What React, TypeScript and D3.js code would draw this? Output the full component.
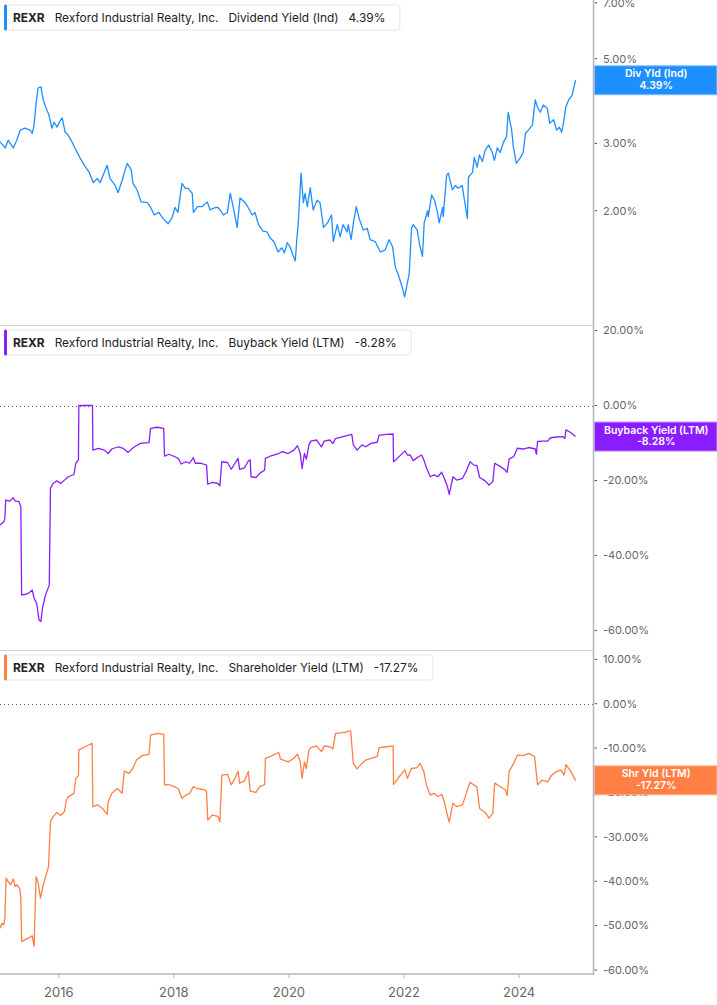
import { useLayoutEffect, useRef, useState } from "react";
import * as d3 from "d3";

// ── Layout ────────────────────────────────────────────────
const W = 717;
const H = 1005;
const PLOT_R = 593.5;           // right edge of plot / axis line
const AXIS_B = 974;             // bottom x-axis line
const FONT = "Inter, 'Noto Sans', sans-serif";

// ── Data (decimal year, value in %) ───────────────────────
const TICKER = "REXR";
const COMPANY = "Rexford Industrial Realty, Inc.";
const YEAR_TICKS = [2016, 2018, 2020, 2022, 2024];
const DIV_TICKS = [2, 3, 5, 7];
const BUY_TICKS = [20, 0, -20, -40, -60];
const SHR_TICKS = [10, 0, -10, -20, -30, -40, -50, -60];
const LAST_VALUES = [4.39, -8.28, -17.27];

const DIV_YIELD: [number, number][] = [
  [2014.98, 3.03], [2015.07, 2.92], [2015.12, 3.06], [2015.21, 2.92], [2015.27, 3.06],
  [2015.33, 3.25], [2015.41, 3.29], [2015.50, 3.25], [2015.54, 3.19], [2015.57, 3.35],
  [2015.61, 3.86], [2015.64, 4.19], [2015.69, 4.22], [2015.73, 3.90], [2015.80, 3.65],
  [2015.83, 3.56], [2015.88, 3.29], [2015.92, 3.41], [2015.97, 3.31], [2016.01, 3.41],
  [2016.06, 3.50], [2016.11, 3.21], [2016.16, 3.16], [2016.23, 3.03], [2016.28, 2.92],
  [2016.37, 2.75], [2016.46, 2.61], [2016.53, 2.52], [2016.60, 2.37], [2016.67, 2.43],
  [2016.72, 2.37], [2016.79, 2.52], [2016.84, 2.63], [2016.89, 2.43], [2016.98, 2.33],
  [2017.03, 2.23], [2017.10, 2.40], [2017.14, 2.52], [2017.19, 2.66], [2017.26, 2.56],
  [2017.29, 2.36], [2017.36, 2.27], [2017.43, 2.11], [2017.54, 2.10], [2017.59, 2.05],
  [2017.66, 1.95], [2017.74, 1.98], [2017.81, 1.91], [2017.90, 1.85], [2017.97, 1.92],
  [2018.02, 2.04], [2018.07, 1.98], [2018.14, 2.36], [2018.20, 2.29], [2018.25, 2.29],
  [2018.32, 2.22], [2018.34, 1.98], [2018.41, 2.05], [2018.49, 2.05], [2018.58, 2.11],
  [2018.63, 2.01], [2018.72, 2.04], [2018.77, 2.04], [2018.86, 1.95], [2018.93, 1.98],
  [2018.98, 2.22], [2019.03, 2.05], [2019.10, 1.81], [2019.15, 2.16], [2019.24, 2.10],
  [2019.29, 2.04], [2019.36, 1.95], [2019.41, 1.98], [2019.47, 1.84], [2019.55, 1.77],
  [2019.62, 1.76], [2019.67, 1.70], [2019.74, 1.66], [2019.81, 1.56], [2019.88, 1.60],
  [2019.92, 1.55], [2019.97, 1.65], [2020.02, 1.61], [2020.07, 1.53], [2020.11, 1.48],
  [2020.14, 1.71], [2020.16, 1.84], [2020.21, 2.51], [2020.25, 2.10], [2020.28, 2.22],
  [2020.32, 2.05], [2020.37, 2.30], [2020.42, 2.01], [2020.49, 2.13], [2020.54, 2.10],
  [2020.60, 1.81], [2020.67, 1.86], [2020.74, 1.95], [2020.77, 1.66], [2020.84, 1.84],
  [2020.89, 1.71], [2020.94, 1.84], [2021.01, 1.76], [2021.03, 1.84], [2021.08, 1.68],
  [2021.12, 1.86], [2021.17, 2.05], [2021.22, 1.91], [2021.29, 1.78], [2021.36, 1.80],
  [2021.41, 1.68], [2021.50, 1.66], [2021.59, 1.56], [2021.67, 1.58], [2021.74, 1.68],
  [2021.80, 1.61], [2021.85, 1.42], [2021.90, 1.36], [2021.97, 1.26], [2022.01, 1.19],
  [2022.06, 1.30], [2022.09, 1.37], [2022.13, 1.80], [2022.16, 1.84], [2022.23, 1.78],
  [2022.27, 1.63], [2022.32, 1.52], [2022.35, 1.86], [2022.41, 2.00], [2022.42, 1.93],
  [2022.48, 2.20], [2022.53, 2.13], [2022.58, 1.98], [2022.61, 1.86], [2022.67, 2.04],
  [2022.68, 1.93], [2022.74, 2.48], [2022.77, 2.51], [2022.84, 2.27], [2022.89, 2.33],
  [2022.94, 2.29], [2023.01, 2.33], [2023.05, 2.13], [2023.10, 1.91], [2023.12, 2.45],
  [2023.19, 2.52], [2023.22, 2.76], [2023.27, 2.60], [2023.31, 2.80], [2023.36, 2.69],
  [2023.41, 2.88], [2023.47, 2.97], [2023.53, 2.85], [2023.57, 2.71], [2023.62, 2.92],
  [2023.67, 2.84], [2023.73, 3.03], [2023.78, 3.12], [2023.81, 3.62], [2023.87, 3.25],
  [2023.90, 2.94], [2023.95, 2.66], [2024.02, 2.75], [2024.07, 2.84], [2024.11, 3.19],
  [2024.16, 3.25], [2024.23, 3.35], [2024.28, 3.90], [2024.32, 3.73], [2024.37, 3.62],
  [2024.42, 3.78], [2024.49, 3.71], [2024.53, 3.39], [2024.60, 3.46], [2024.65, 3.25],
  [2024.70, 3.31], [2024.74, 3.21], [2024.77, 3.39], [2024.81, 3.73], [2024.86, 3.90],
  [2024.92, 4.01], [2024.94, 4.14], [2024.98, 4.39],
];

const BUYBACK: [number, number][] = [
  [2014.98, -31.9], [2015.045, -31.0], [2015.064, -30.1], [2015.078, -25.2], [2015.144, -25.5],
  [2015.21, -24.6], [2015.243, -25.5], [2015.308, -25.6], [2015.341, -27.0], [2015.355, -50.5],
  [2015.407, -50.4], [2015.473, -50.1], [2015.539, -49.2], [2015.572, -51.4], [2015.617, -52.8],
  [2015.657, -57.2], [2015.69, -57.6], [2015.716, -54.1], [2015.77, -50.5], [2015.835, -47.9],
  [2015.856, -22.1], [2015.901, -20.8], [2015.967, -20.1], [2016.033, -20.8], [2016.099, -19.9],
  [2016.165, -19.0], [2016.264, -18.4], [2016.297, -15.4], [2016.342, -14.5], [2016.349, 0.0],
  [2016.586, 0.0], [2016.593, -11.9], [2016.692, -11.4], [2016.791, -11.9], [2016.857, -12.8],
  [2016.922, -11.6], [2017.035, -11.0], [2017.12, -11.4], [2017.205, -12.5], [2017.297, -11.2],
  [2017.417, -10.1], [2017.569, -9.9], [2017.595, -6.1], [2017.713, -5.8], [2017.824, -6.1],
  [2017.838, -13.5], [2017.911, -13.0], [2018.009, -13.6], [2018.075, -14.1], [2018.128, -15.6],
  [2018.207, -15.0], [2018.273, -15.4], [2018.339, -13.9], [2018.372, -15.4], [2018.471, -15.4],
  [2018.568, -15.9], [2018.589, -21.0], [2018.668, -20.5], [2018.767, -20.8], [2018.8, -21.4],
  [2018.833, -15.0], [2018.932, -15.2], [2018.998, -17.0], [2019.062, -15.4], [2019.116, -14.1],
  [2019.142, -17.0], [2019.228, -16.6], [2019.294, -14.8], [2019.327, -14.5], [2019.341, -19.0],
  [2019.426, -19.2], [2019.492, -18.1], [2019.577, -17.2], [2019.591, -14.1], [2019.689, -13.4],
  [2019.821, -12.8], [2019.887, -12.3], [2019.986, -12.8], [2020.085, -11.9], [2020.149, -10.7],
  [2020.196, -12.8], [2020.229, -16.8], [2020.269, -12.8], [2020.302, -14.3], [2020.348, -10.5],
  [2020.381, -9.5], [2020.48, -9.2], [2020.565, -11.0], [2020.612, -9.5], [2020.709, -9.2],
  [2020.763, -10.1], [2020.809, -8.8], [2020.941, -8.3], [2021.092, -7.7], [2021.118, -10.5],
  [2021.184, -11.9], [2021.269, -10.5], [2021.335, -11.0], [2021.422, -10.1], [2021.534, -9.8],
  [2021.567, -7.9], [2021.699, -7.7], [2021.81, -7.6], [2021.817, -15.0], [2021.895, -13.9],
  [2022.014, -12.1], [2022.06, -13.2], [2022.106, -13.2], [2022.16, -14.7], [2022.259, -13.6],
  [2022.304, -13.2], [2022.344, -14.5], [2022.389, -16.6], [2022.455, -19.0], [2022.521, -18.5],
  [2022.587, -19.0], [2022.654, -17.8], [2022.699, -19.4], [2022.753, -21.6], [2022.786, -23.7],
  [2022.819, -21.2], [2022.852, -19.0], [2022.916, -19.9], [2023.016, -19.4], [2023.081, -17.5],
  [2023.147, -15.0], [2023.214, -15.9], [2023.266, -16.0], [2023.313, -19.2], [2023.41, -20.1],
  [2023.476, -21.2], [2023.542, -20.3], [2023.575, -15.4], [2023.675, -16.3], [2023.76, -17.2],
  [2023.793, -17.8], [2023.826, -14.3], [2023.906, -13.6], [2023.97, -11.4], [2024.069, -11.6],
  [2024.168, -11.2], [2024.28, -11.6], [2024.3, -13.0], [2024.32, -9.6], [2024.4, -9.5],
  [2024.497, -9.5], [2024.544, -8.6], [2024.65, -8.4], [2024.761, -8.3], [2024.794, -8.8],
  [2024.813, -6.5], [2024.894, -7.2], [2024.979, -8.28],
];

const SHR_YIELD: [number, number][] = [
  [2014.98, -50.6], [2015.012, -49.5], [2015.045, -49.8], [2015.064, -48.3], [2015.085, -39.3],
  [2015.123, -40.1], [2015.163, -40.8], [2015.21, -39.5], [2015.243, -41.2], [2015.275, -40.8],
  [2015.322, -41.6], [2015.341, -43.8], [2015.355, -53.6], [2015.407, -53.2], [2015.473, -52.8],
  [2015.539, -52.3], [2015.572, -54.7], [2015.605, -39.0], [2015.638, -40.1], [2015.683, -43.8],
  [2015.716, -41.6], [2015.77, -39.0], [2015.822, -36.7], [2015.856, -26.6], [2015.901, -25.5],
  [2015.967, -24.5], [2016.033, -25.2], [2016.099, -24.3], [2016.132, -21.7], [2016.165, -21.0],
  [2016.264, -20.2], [2016.297, -16.8], [2016.342, -16.2], [2016.349, -10.4], [2016.461, -9.7],
  [2016.579, -8.9], [2016.593, -23.2], [2016.678, -22.8], [2016.758, -23.6], [2016.843, -24.9],
  [2016.857, -22.2], [2016.922, -20.2], [2017.021, -19.1], [2017.101, -20.2], [2017.139, -15.2],
  [2017.219, -15.7], [2017.285, -14.6], [2017.351, -12.7], [2017.449, -11.7], [2017.569, -11.4],
  [2017.595, -7.1], [2017.713, -6.7], [2017.824, -6.9], [2017.838, -18.3], [2017.911, -18.2],
  [2018.009, -18.7], [2018.075, -19.1], [2018.141, -21.3], [2018.207, -20.6], [2018.273, -20.2],
  [2018.339, -18.7], [2018.405, -19.1], [2018.536, -19.4], [2018.568, -19.8], [2018.589, -26.2],
  [2018.668, -25.1], [2018.767, -25.4], [2018.8, -26.6], [2018.833, -16.1], [2018.932, -15.9],
  [2018.998, -18.3], [2019.062, -16.8], [2019.116, -15.2], [2019.142, -17.9], [2019.228, -17.4],
  [2019.294, -15.3], [2019.327, -19.7], [2019.426, -20.0], [2019.492, -18.7], [2019.577, -18.2],
  [2019.591, -12.3], [2019.689, -11.8], [2019.821, -11.0], [2019.854, -12.5], [2019.986, -13.1],
  [2020.085, -12.3], [2020.149, -11.4], [2020.196, -13.1], [2020.229, -16.8], [2020.269, -13.1],
  [2020.302, -14.6], [2020.348, -10.4], [2020.381, -9.9], [2020.48, -9.5], [2020.565, -10.8],
  [2020.612, -9.5], [2020.709, -9.7], [2020.763, -10.2], [2020.809, -6.7], [2020.941, -6.5],
  [2021.073, -6.1], [2021.118, -13.4], [2021.184, -14.7], [2021.269, -13.4], [2021.335, -12.7],
  [2021.422, -12.3], [2021.534, -11.9], [2021.567, -9.9], [2021.699, -9.7], [2021.81, -9.5],
  [2021.817, -18.2], [2021.895, -16.8], [2022.014, -14.9], [2022.06, -16.8], [2022.127, -14.6],
  [2022.226, -14.4], [2022.278, -13.4], [2022.344, -15.3], [2022.389, -18.3], [2022.455, -20.6],
  [2022.521, -20.2], [2022.587, -20.9], [2022.654, -20.4], [2022.699, -22.1], [2022.753, -25.1],
  [2022.786, -26.7], [2022.819, -24.3], [2022.852, -22.4], [2022.916, -23.2], [2023.016, -22.8],
  [2023.081, -20.2], [2023.147, -17.7], [2023.214, -18.3], [2023.266, -18.7], [2023.313, -23.6],
  [2023.41, -24.5], [2023.476, -25.8], [2023.542, -24.7], [2023.575, -17.9], [2023.675, -18.7],
  [2023.76, -19.4], [2023.793, -20.7], [2023.826, -15.3], [2023.906, -13.4], [2023.97, -11.6],
  [2024.069, -11.7], [2024.168, -11.2], [2024.268, -11.9], [2024.32, -18.3], [2024.4, -17.2],
  [2024.497, -17.6], [2024.563, -16.1], [2024.65, -15.3], [2024.728, -14.9], [2024.781, -16.1],
  [2024.813, -13.7], [2024.894, -15.2], [2024.979, -17.27],
];

// ── Scales ────────────────────────────────────────────────
const xScale = d3.scaleLinear().domain([2014.979, 2025.292]).range([0, PLOT_R]);

const pct = (v: number) => `${v.toFixed(2)}%`;

const panels = [
  {
    key: "div", top: 0, bottom: 325,
    y: d3.scaleLog().domain([1.005, 7.12]).range([325, 0]),
    ticks: DIV_TICKS, data: DIV_YIELD, last: LAST_VALUES[0],
    color: "#1E8FFF", border: "#86C2FF",
    metric: "Dividend Yield (Ind)", short: "Div Yld (Ind)", zero: false,
  },
  {
    key: "buy", top: 325, bottom: 650,
    y: d3.scaleLinear().domain([-65.2, 21.47]).range([650, 325]),
    ticks: BUY_TICKS, data: BUYBACK, last: LAST_VALUES[1],
    color: "#8A1DFF", border: "#C08BFF",
    metric: "Buyback Yield (LTM)", short: "Buyback Yield (LTM)", zero: true,
  },
  {
    key: "shr", top: 650, bottom: AXIS_B,
    y: d3.scaleLinear().domain([-60.9, 12.1]).range([AXIS_B, 650]),
    ticks: SHR_TICKS, data: SHR_YIELD, last: LAST_VALUES[2],
    color: "#FF7F45", border: "#FFB48F",
    metric: "Shareholder Yield (LTM)", short: "Shr Yld (LTM)", zero: true,
  },
];

// ── Legend chip, width measured from its text ─────────────
function Legend({ top, color, metric, value }: { top: number; color: string; metric: string; value: string }) {
  const ref = useRef<SVGTextElement>(null);
  const [w, setW] = useState(380);
  useLayoutEffect(() => {
    if (ref.current) setW(ref.current.getBBox().width);
  }, []);
  return (
    <g transform={`translate(4, ${top + 4.5})`}>
      <rect x={0.5} y={0.5} width={w + 9 + 14} height={25} rx={3}
        fill="#fff" stroke="#e6e6e6" />
      <rect x={0} y={0} width={3} height={26} rx={1.5} fill={color} />
      <text ref={ref} x={9} y={17} fontSize={11.9} fill="#222" fontFamily={FONT}>
        <tspan fontWeight={700}>{TICKER}</tspan>
        <tspan dx={10}>{COMPANY}</tspan>
        <tspan dx={10}>{metric}</tspan>
        <tspan dx={10}>{value}</tspan>
      </text>
    </g>
  );
}

export default function App() {
  return (
    <svg width={W} height={H} viewBox={`0 0 ${W} ${H}`}
      style={{ position: "absolute", left: 0, top: 0, background: "#fff", fontFamily: FONT }}>
      <rect width={W} height={H} fill="#fff" />

      {panels.map(p => {
        const line = d3.line<[number, number]>()
          .x(d => xScale(d[0]))
          .y(d => p.y(d[1]));
        const yLast = p.y(p.last);
        return (
          <g key={p.key}>
            {/* panel separator */}
            {p.top > 0 && (
              <line x1={0} x2={PLOT_R} y1={p.top + 0.5} y2={p.top + 0.5} stroke="#d4d4d4" strokeWidth={1} />
            )}
            {/* zero line */}
            {p.zero && (
              <line x1={0} x2={PLOT_R} y1={Math.round(p.y(0)) + 0.5} y2={Math.round(p.y(0)) + 0.5}
                stroke="#555" strokeWidth={1} strokeDasharray="1 3" />
            )}
            {/* series */}
            <path d={line(p.data) ?? ""} fill="none" stroke={p.color} strokeWidth={1.3}
              strokeLinejoin="round" />

            {/* y ticks */}
            {p.ticks.map(t => (
              <g key={t}>
                <line x1={PLOT_R + 1} x2={PLOT_R + 3.5} y1={p.y(t)} y2={p.y(t)} stroke="#555" strokeWidth={1} />
                <text x={603} y={p.y(t)} dy="0.35em" fontSize={11} fill="#666">{pct(t)}</text>
              </g>
            ))}

            {/* last value box */}
            <rect x={PLOT_R + 1} y={yLast - 14.5} width={W - PLOT_R - 1} height={29}
              fill={p.color} stroke={p.border} strokeWidth={1} />
            <text x={(PLOT_R + W) / 2 + 1} y={yLast - 3} textAnchor="middle" fontSize={10.5}
              fontWeight={600} fill="#fff">{p.short}</text>
            <text x={(PLOT_R + W) / 2 + 1} y={yLast + 8.5} textAnchor="middle" fontSize={10.5}
              fontWeight={600} fill="#fff">{pct(p.last)}</text>

            <Legend top={p.top} color={p.color} metric={p.metric} value={pct(p.last)} />
          </g>
        );
      })}

      {/* right axis line */}
      <line x1={PLOT_R} x2={PLOT_R} y1={0} y2={AXIS_B + 1} stroke="#b5b5b5" strokeWidth={1.5} />
      {/* bottom axis */}
      <line x1={0} x2={PLOT_R + 0.75} y1={AXIS_B} y2={AXIS_B} stroke="#b5b5b5" strokeWidth={1.5} />
      {YEAR_TICKS.map(t => (
        <g key={t}>
          <line x1={xScale(t)} x2={xScale(t)} y1={AXIS_B} y2={AXIS_B + 4} stroke="#b5b5b5" strokeWidth={1} />
          <text x={xScale(t)} y={997} textAnchor="middle" fontSize={13} fill="#666">{t}</text>
        </g>
      ))}
    </svg>
  );
}
